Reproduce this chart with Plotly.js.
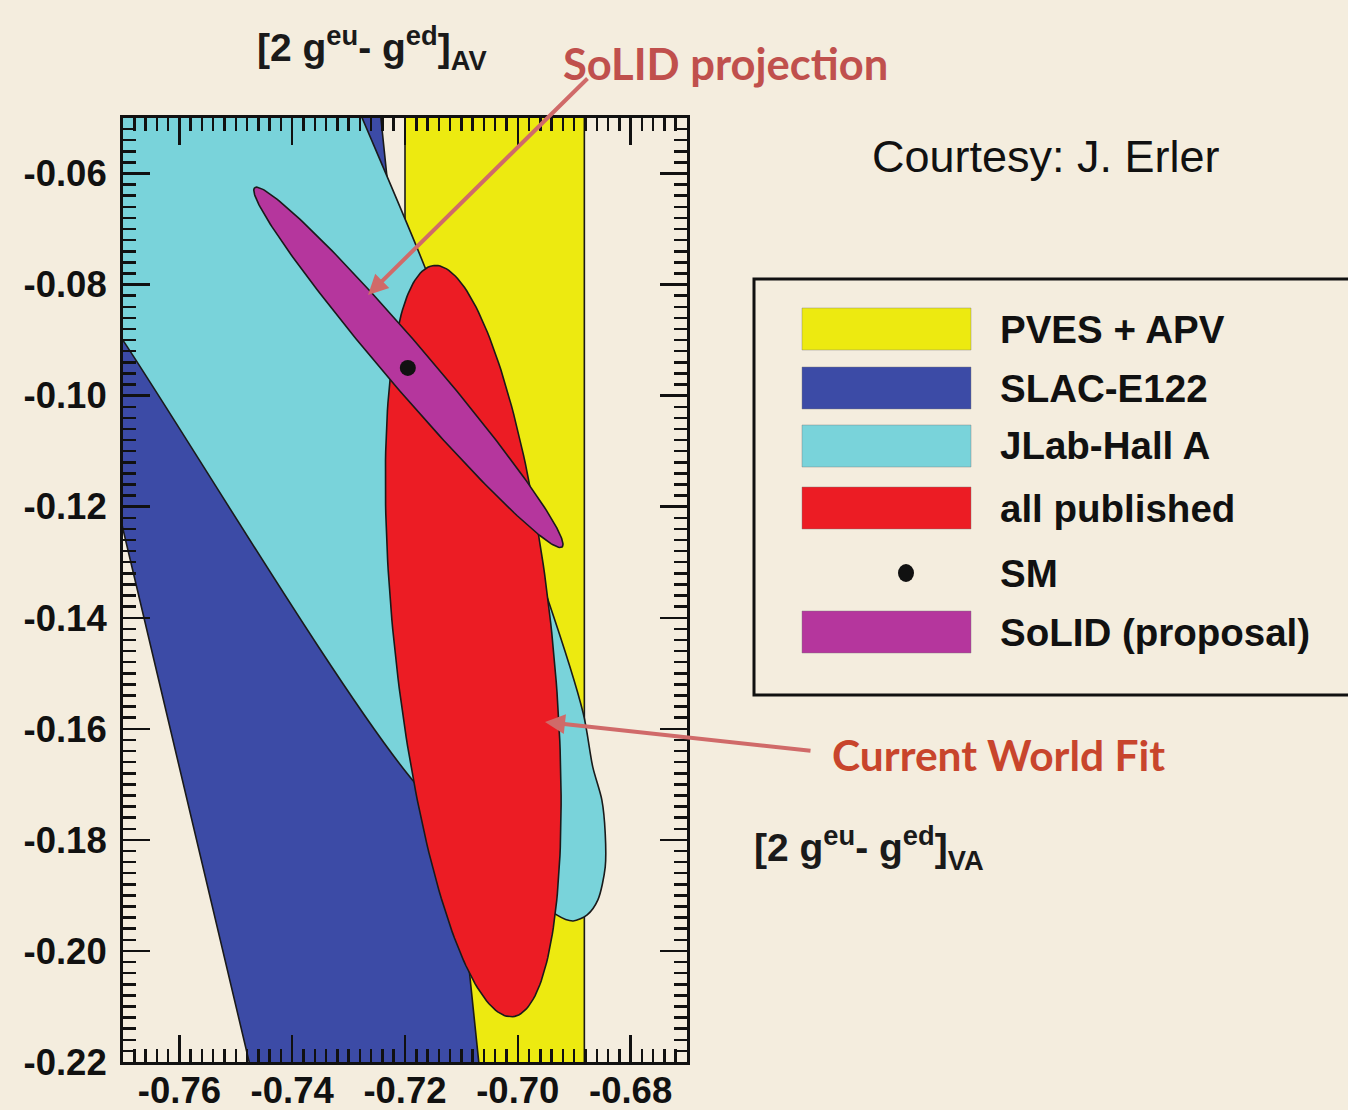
<!DOCTYPE html>
<html>
<head>
<meta charset="utf-8">
<script src="https://cdn.plot.ly/plotly-3.0.1.min.js"></script>
<style>
  html, body { margin: 0; padding: 0; background: #F4EDDE; }
  #chart { width: 1348px; height: 1110px; }
</style>
</head>
<body>
<div id="chart"></div>
<script>
// ---------------- data ----------------
const xRange = [-0.77, -0.67];
const yRange = [-0.22, -0.05];

const legendNames  = ['PVES + APV', 'SLAC-E122', 'JLab-Hall A', 'all published', 'SM', 'SoLID (proposal)'];
const legendColors = ['#EDEA10', '#3C4BA6', '#79D3DA', '#EC1C24', '#111111', '#B5369D'];

// PVES + APV : vertical band in x
const pvesX = [-0.7200, -0.6882];
const pvesYSpan = [-0.23, -0.04];

// SLAC-E122 : slanted band (outline)
const slacX = [-0.7896, -0.7253, -0.7059, -0.7453];
const slacY = [-0.04, -0.04, -0.23, -0.23];

// JLab-Hall A : elongated contour (outline)
const jlabX = [-0.8024, -0.7697, -0.7182, -0.6931, -0.6902, -0.6877, -0.6858, -0.6845, -0.6845, -0.6851, -0.6867, -0.6884, -0.6948, -0.7056, -0.7165, -0.7276, -0.7318];
const jlabY = [-0.04, -0.0905, -0.1698, -0.1935, -0.1946, -0.1935, -0.1908, -0.1849, -0.1788, -0.1728, -0.1669, -0.1572, -0.1363, -0.1066, -0.0768, -0.05, -0.04];

// Ellipses: all published, SoLID (proposal)
const ellNames = ['all published', 'SoLID (proposal)'];
const ellCx    = [-0.7079, -0.7194];
const ellCy    = [-0.1442, -0.0949];
const ellA     = [0.0680, 0.0423];
const ellB     = [0.0140, 0.0039];
const ellAngle = [95.9, 130.1];

// Standard Model point
const smX = [-0.7195];
const smY = [-0.0950];

// x / y tick labels
const xTickVals = [-0.76, -0.74, -0.72, -0.70, -0.68];
const xTickText = ['-0.76', '-0.74', '-0.72', '-0.70', '-0.68'];
const yTickVals = [-0.22, -0.20, -0.18, -0.16, -0.14, -0.12, -0.10, -0.08, -0.06];
const yTickText = ['-0.22', '-0.20', '-0.18', '-0.16', '-0.14', '-0.12', '-0.10', '-0.08', '-0.06'];

// ---------------- build ----------------
function ellipsePts(cx, cy, a, b, angDeg) {
  const th = angDeg * Math.PI / 180, xs = [], ys = [];
  for (let i = 0; i <= 240; i++) {
    const t = 2 * Math.PI * i / 240;
    xs.push(cx + a * Math.cos(t) * Math.cos(th) - b * Math.sin(t) * Math.sin(th));
    ys.push(cy + a * Math.cos(t) * Math.sin(th) + b * Math.sin(t) * Math.cos(th));
  }
  return [xs, ys];
}
const edge = {color: '#1a1a1a', width: 1.6};

const traces = [];
traces.push({
  type: 'scatter', mode: 'lines', name: legendNames[0],
  x: [pvesX[0], pvesX[1], pvesX[1], pvesX[0], pvesX[0]],
  y: [pvesYSpan[0], pvesYSpan[0], pvesYSpan[1], pvesYSpan[1], pvesYSpan[0]],
  fill: 'toself', fillcolor: legendColors[0], line: edge, hoverinfo: 'skip'
});
traces.push({
  type: 'scatter', mode: 'lines', name: legendNames[1],
  x: slacX.concat([slacX[0]]), y: slacY.concat([slacY[0]]),
  fill: 'toself', fillcolor: legendColors[1], line: edge, hoverinfo: 'skip'
});
traces.push({
  type: 'scatter', mode: 'lines', name: legendNames[2],
  x: jlabX.concat([jlabX[0]]), y: jlabY.concat([jlabY[0]]),
  fill: 'toself', fillcolor: legendColors[2],
  line: {color: edge.color, width: edge.width, shape: 'spline', smoothing: 0.8}, hoverinfo: 'skip'
});
const ellColors = [legendColors[3], legendColors[5]];
for (let k = 0; k < ellNames.length; k++) {
  const p = ellipsePts(ellCx[k], ellCy[k], ellA[k], ellB[k], ellAngle[k]);
  traces.push({
    type: 'scatter', mode: 'lines', name: ellNames[k], x: p[0], y: p[1],
    fill: 'toself', fillcolor: ellColors[k], line: edge, hoverinfo: 'skip'
  });
}
traces.push({
  type: 'scatter', mode: 'markers', name: legendNames[4], x: smX, y: smY,
  marker: {color: legendColors[4], size: 16}, hoverinfo: 'skip'
});

// layout helpers: pixel -> paper
const W = 1348, H = 1110, L = 123, R = 687, T = 118, B = 1062;
const px = v => (v - L) / (R - L);
const py = v => (B - v) / (B - T);

const tickFont = {family: 'Liberation Sans, Arial, sans-serif', size: 36.5, color: '#111', weight: 'bold'};
const axisCommon = {
  showgrid: false, zeroline: false, showline: true, linewidth: 3, linecolor: '#111',
  mirror: 'ticks', ticks: 'inside', ticklen: 27, tickwidth: 2.5, tickcolor: '#111',
  tickfont: tickFont,
  minor: {ticks: 'inside', ticklen: 13, tickwidth: 2.5, tickcolor: '#111', dtick: 0.002, showgrid: false}
};

const shapes = [];
const annotations = [];
// legend box
shapes.push({type: 'rect', xref: 'paper', yref: 'paper', x0: px(754), x1: px(1352), y0: py(695), y1: py(279),
  line: {color: '#111', width: 3}, fillcolor: 'rgba(0,0,0,0)'});
const rowY = [329, 388, 446, 508, 573, 632];
for (let i = 0; i < legendNames.length; i++) {
  if (legendNames[i] === 'SM') {
    shapes.push({type: 'circle', xref: 'paper', yref: 'paper', x0: px(898), x1: px(914), y0: py(rowY[i] + 9), y1: py(rowY[i] - 9),
      fillcolor: legendColors[i], line: {width: 0}});
  } else {
    shapes.push({type: 'rect', xref: 'paper', yref: 'paper', x0: px(802), x1: px(971), y0: py(rowY[i] + 21), y1: py(rowY[i] - 21),
      fillcolor: legendColors[i], line: {color: 'rgba(120,120,120,0.4)', width: 1}});
  }
  annotations.push({xref: 'paper', yref: 'paper', x: px(998), y: py(rowY[i]), xanchor: 'left', yanchor: 'middle',
    text: legendNames[i], showarrow: false,
    font: {family: 'Liberation Sans, Arial, sans-serif', size: 38.5, color: '#111', weight: 'bold'}});
}
const labFont = {family: 'Liberation Sans, Arial, sans-serif', size: 39, color: '#1a1a1a', weight: 'bold'};
annotations.push({xref: 'paper', yref: 'paper', x: px(255), y: py(48), xanchor: 'left', yanchor: 'middle',
  text: '[2 g<sup>eu</sup>- g<sup>ed</sup>]<sub>AV</sub>', showarrow: false, font: labFont});
annotations.push({xref: 'paper', yref: 'paper', x: px(752), y: py(848), xanchor: 'left', yanchor: 'middle',
  text: '[2 g<sup>eu</sup>- g<sup>ed</sup>]<sub>VA</sub>', showarrow: false, font: labFont});
annotations.push({xref: 'paper', yref: 'paper', x: px(870), y: py(157), xanchor: 'left', yanchor: 'middle',
  text: 'Courtesy: J. Erler', showarrow: false,
  font: {family: 'Liberation Sans, Arial, sans-serif', size: 45, color: '#111'}});
annotations.push({xref: 'paper', yref: 'paper', x: px(561), y: py(63), xanchor: 'left', yanchor: 'middle',
  text: 'SoLID projection', showarrow: false,
  font: {family: 'Lato, Open Sans, sans-serif', size: 43.5, color: '#C0504D', weight: 'bold'}});
annotations.push({xref: 'paper', yref: 'paper', x: px(830), y: py(754), xanchor: 'left', yanchor: 'middle',
  text: 'Current World Fit', showarrow: false,
  font: {family: 'Lato, Open Sans, sans-serif', size: 42.5, color: '#C8452C', weight: 'bold'}});
// arrows
const arrowColor = '#D06A69';
annotations.push({xref: 'paper', yref: 'paper', x: px(368), y: py(295), text: '', showarrow: true,
  ax: 589 - 368, ay: 77 - 295, arrowcolor: arrowColor, arrowwidth: 4, arrowhead: 2, arrowsize: 1});
annotations.push({xref: 'paper', yref: 'paper', x: px(545), y: py(722), text: '', showarrow: true,
  ax: 812 - 545, ay: 751 - 722, arrowcolor: arrowColor, arrowwidth: 4, arrowhead: 2, arrowsize: 1});

const layout = {
  width: W, height: H,
  margin: {l: L, r: W - R, t: T, b: H - B, pad: 0},
  paper_bgcolor: '#F4EDDE', plot_bgcolor: '#F4EDDE',
  showlegend: false,
  xaxis: Object.assign({}, axisCommon, {range: xRange, tickmode: 'array', tickvals: xTickVals, ticktext: xTickText,
    ticklabelstandoff: -6,
    minor: Object.assign({}, axisCommon.minor, {tickmode: 'linear', tick0: -0.77})}),
  yaxis: Object.assign({}, axisCommon, {range: yRange, tickmode: 'array', tickvals: yTickVals, ticktext: yTickText,
    ticklabelstandoff: 6,
    minor: Object.assign({}, axisCommon.minor, {tickmode: 'linear', tick0: -0.22})}),
  shapes: shapes,
  annotations: annotations
};

Plotly.newPlot('chart', traces, layout, {displayModeBar: false, staticPlot: true});
</script>
</body>
</html>
